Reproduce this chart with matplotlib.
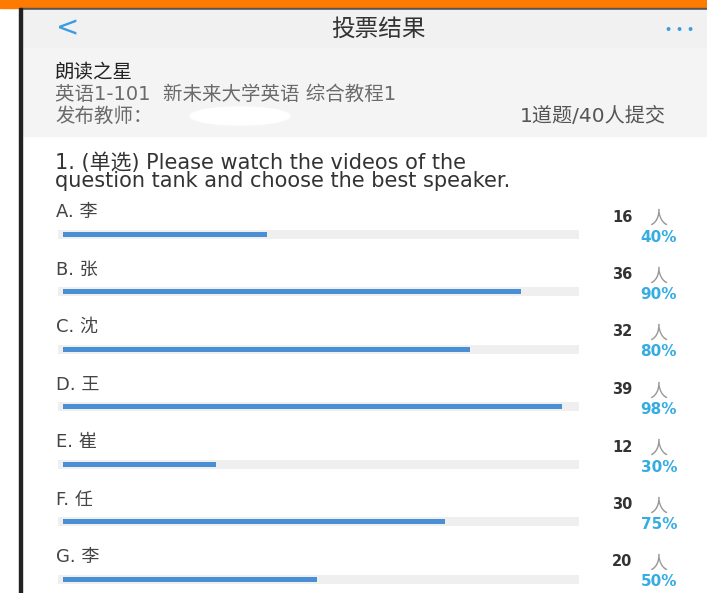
import matplotlib.pyplot as plt
from matplotlib.patches import Rectangle, Ellipse

# latín en DejaVu (más ancho), chino con Noto CJK
plt.rcParams['font.family'] = ['DejaVu Sans', 'Noto Sans CJK SC']

# datos de la votación
options = ["A. 李", "B. 张", "C. 沈", "D. 王", "E. 崔", "F. 任", "G. 李"]
votes = [16, 36, 32, 39, 12, 30, 20]
percents = [40, 90, 80, 98, 30, 75, 50]

title = "投票结果"
activity = "朗读之星"
course = "英语1-101  新未来大学英语 综合教程1"
teacher = "发布教师："
summary = "1道题/40人提交"
question = "1. (单选) Please watch the videos of the\nquestion tank and choose the best speaker."

W, H = 707, 593
fig = plt.figure(figsize=(W / 100, H / 100), dpi=100)
ax = fig.add_axes([0, 0, 1, 1])
ax.set_xlim(0, W)
ax.set_ylim(H, 0)
ax.axis("off")

# fondo: barra naranja, cabecera gris, borde izquierdo
ax.add_patch(Rectangle((0, 0), W, 8, color="#ff7a00"))
ax.add_patch(Rectangle((20, 8), W - 20, 2, color="#555555"))
ax.add_patch(Rectangle((21, 10), W - 21, 38, color="#f1f1f1"))
ax.add_patch(Rectangle((21, 48), W - 21, 88, color="#f4f4f4"))
ax.add_patch(Rectangle((19, 8), 2.5, H, color="#222222"))
ax.add_patch(Ellipse((240, 116), 100, 18, color="white"))

ax.text(68, 28, "<", fontsize=20, color="#3a9be0", ha="center", va="center")
ax.text(378, 29, title, fontsize=17, color="#333333", ha="center", va="center")
ax.text(680, 30, "• • •", fontsize=8, color="#3a9be0", ha="center",
        va="center", fontweight="bold")
ax.text(55, 72, activity, fontsize=14, color="#222222", va="center")
ax.text(55, 94, course, fontsize=14, color="#6a6a6a", va="center")
ax.text(55, 116, teacher, fontsize=14, color="#6a6a6a", va="center")
ax.text(666, 116, summary, fontsize=14.5, color="#555555", ha="right", va="center")
ax.text(55, 172, question, fontsize=15, color="#333333", va="center",
        linespacing=0.85)

# barras en su propio eje (0-100 %)
bx = fig.add_axes([58 / W, 0, (582 - 58) / W, 1])
bx.set_xlim(-0.5, 102.5)
bx.set_ylim(H, 0)
bx.axis("off")
bx.patch.set_alpha(0)

step = 57.5
for i, (opt, v, p) in enumerate(zip(options, votes, percents)):
    ybar = 234 + i * step
    bx.barh(ybar, 102.5, height=9, left=-0.5, color="#efefef")
    bx.barh(ybar, p, height=5, left=0.5, color="#4a8fd4")
    ax.text(56, 212 + i * step, opt, fontsize=13, color="#444444", va="center")
    ax.text(612, 217 + i * step, str(v), fontsize=10.5, color="#333333",
            va="center", fontweight="bold")
    ax.text(649, 219 + i * step, "人", fontsize=13, color="#999999", va="center")
    ax.text(677, 237 + i * step, f"{p}%", fontsize=11, color="#35ace2",
            va="center", ha="right", fontweight="bold")

fig.savefig("out.png", dpi=100)
